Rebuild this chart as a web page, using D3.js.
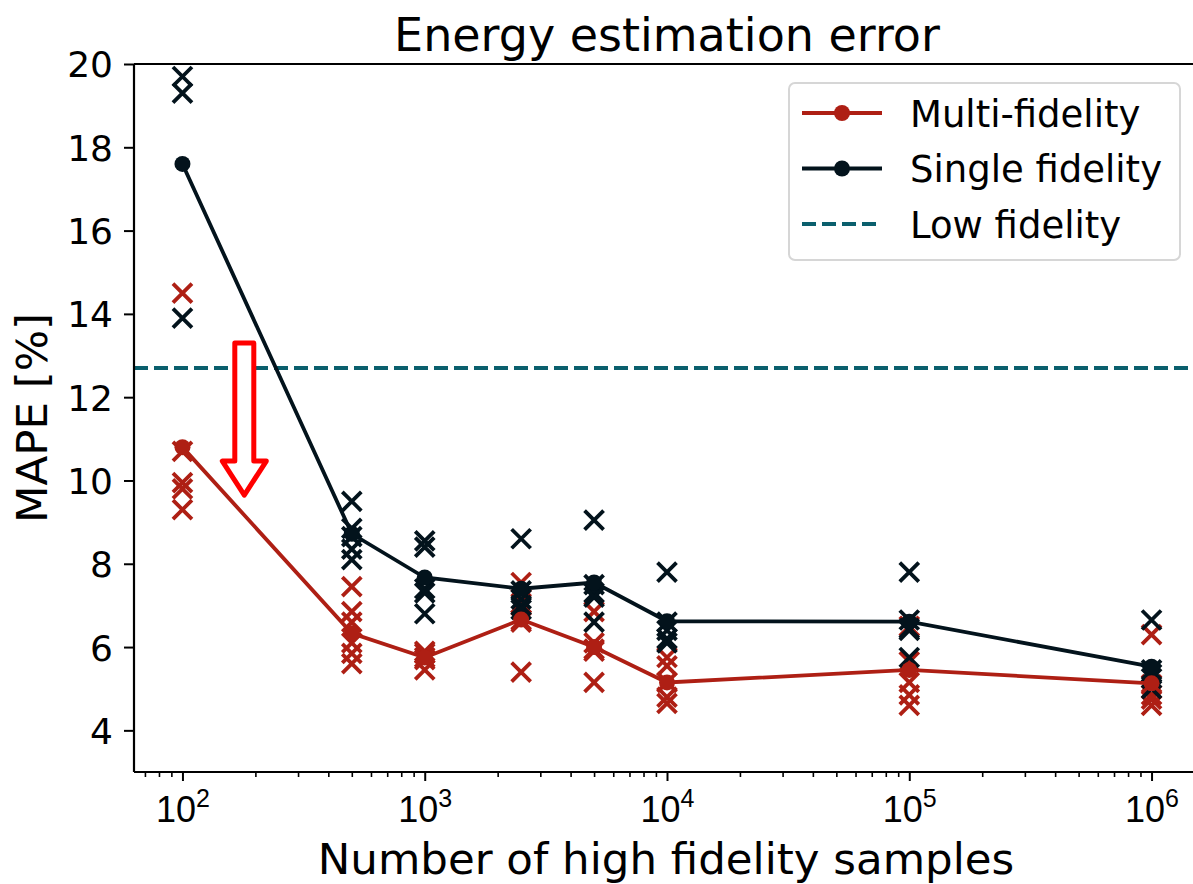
<!DOCTYPE html>
<html>
<head>
<meta charset="utf-8">
<script src="https://cdn.jsdelivr.net/npm/d3@7"></script>
<style>
  body { margin: 0; background: #fff; }
  svg { display: block; font-family: "DejaVu Sans", sans-serif; }
</style>
</head>
<body>
<svg id="chart" width="1193" height="884"></svg>
<script>
// values
const samples = [100, 500, 1000, 2500, 5000, 10000, 100000, 1000000];
const multiMean = [10.8, 6.33, 5.75, 6.66, 6.0, 5.15, 5.45, 5.13];
const singleMean = [17.6, 8.72, 7.67, 7.4, 7.55, 6.62, 6.61, 5.53];
const lowFidelity = 12.7;

const multiRuns = [
  [14.5, 10.7, 9.95, 9.8, 9.3],
  [7.45, 6.85, 6.6, 6.1, 5.85, 5.6],
  [5.9, 5.85, 5.75, 5.7, 5.45],
  [7.55, 7.05, 6.65, 6.6, 5.4],
  [6.85, 6.1, 5.95, 5.9, 5.15],
  [5.75, 5.55, 5.15, 4.8, 4.65],
  [6.5, 5.65, 5.15, 4.85, 4.6],
  [6.3, 5.1, 4.85, 4.75, 4.6]
];
const singleRuns = [
  [19.7, 19.3, 13.9],
  [9.5, 8.85, 8.65, 8.35, 8.1],
  [8.55, 8.4, 7.4, 7.3, 6.8],
  [8.6, 7.35, 7.15, 7.0, 6.9],
  [9.05, 7.5, 7.3, 7.2, 6.6],
  [7.8, 6.6, 6.4, 6.2, 6.1],
  [7.8, 6.65, 6.45, 6.4, 5.75],
  [6.65, 5.45, 5.35, 5.25, 5.0]
];

// reduction arrow annotation (data coords)
const arrowX = 180;
const arrowFrom = 13.3;
const arrowTo = 9.65;

const yTicks = [4, 6, 8, 10, 12, 14, 16, 18, 20];
const xTicks = [1e2, 1e3, 1e4, 1e5, 1e6];

const red = '#ae1f14';
const dark = '#03131c';
const teal = '#0a5f6d';

const svg = d3.select('#chart');
const pLeft = 134, pTop = 64, pRight = 1200, pBottom = 772;

const x = d3.scaleLog().domain([Math.pow(10, 1.8), Math.pow(10, 6.2)]).range([pLeft, pRight]);
const y = d3.scaleLinear().domain([3, 20]).range([pBottom, pTop]);

const plot = svg.append('g');
plot.append('clipPath').attr('id', 'clip')
  .append('rect').attr('x', pLeft).attr('y', pTop).attr('width', pRight - pLeft).attr('height', pBottom - pTop);

const inner = plot.append('g').attr('clip-path', 'url(#clip)');

// low fidelity reference
inner.append('line')
  .attr('x1', pLeft).attr('x2', pRight)
  .attr('y1', y(lowFidelity)).attr('y2', y(lowFidelity))
  .attr('stroke', teal).attr('stroke-width', 3.8)
  .attr('stroke-dasharray', '14,6');

const drawCrosses = (runs, color) => {
  const pts = [];
  runs.forEach((r, i) => r.forEach((v) => pts.push([samples[i], v])));
  inner.selectAll(null)
    .data(pts)
    .enter()
    .append('path')
    .attr('d', (d) => {
      const cx = x(d[0]), cy = y(d[1]), s = 9.5;
      return `M${cx - s},${cy - s}L${cx + s},${cy + s}M${cx - s},${cy + s}L${cx + s},${cy - s}`;
    })
    .attr('stroke', color)
    .attr('stroke-width', 3.8)
    .attr('fill', 'none');
};

const drawMean = (means, color) => {
  const line = d3.line().x((d, i) => x(samples[i])).y((d) => y(d));
  inner.append('path')
    .attr('d', line(means))
    .attr('stroke', color)
    .attr('stroke-width', 3.8)
    .attr('fill', 'none');
  inner.selectAll(null)
    .data(means)
    .enter()
    .append('circle')
    .attr('cx', (d, i) => x(samples[i]))
    .attr('cy', (d) => y(d))
    .attr('r', 8)
    .attr('fill', color);
};

drawCrosses(multiRuns, red);
drawCrosses(singleRuns, dark);
drawMean(multiMean, red);
drawMean(singleMean, dark);

// arrow
const ax = x(arrowX), ay0 = y(arrowFrom), ay1 = y(arrowTo);
const sw = 9.5, hw = 22, hh = 34;
inner.append('path')
  .attr('d', `M${ax - sw},${ay0}L${ax + sw},${ay0}L${ax + sw},${ay1 - hh}L${ax + hw},${ay1 - hh}` +
    `L${ax},${ay1}L${ax - hw},${ay1 - hh}L${ax - sw},${ay1 - hh}Z`)
  .attr('fill', '#fff')
  .attr('stroke', '#ff0000')
  .attr('stroke-width', 5)
  .attr('stroke-linejoin', 'round');

// axes
const xAxis = d3.axisBottom(x).tickValues(xTicks).tickSize(9).tickFormat('');
const gx = svg.append('g').attr('transform', `translate(0,${pBottom})`).call(xAxis);

const minor = [];
for (let e = 1; e <= 6; e++) {
  for (let m = 2; m <= 9; m++) {
    const v = m * Math.pow(10, e);
    if (v > x.domain()[0] && v < x.domain()[1]) minor.push(v);
  }
}
svg.append('g').attr('transform', `translate(0,${pBottom})`)
  .call(d3.axisBottom(x).tickValues(minor).tickSize(5).tickFormat(''))
  .call((g) => g.select('.domain').remove())
  .selectAll('line').attr('stroke-width', 1.6);

gx.selectAll('.tick line').attr('stroke-width', 2);
gx.select('.domain').attr('stroke-width', 2.2).attr('d', `M${pLeft},0H${pRight}`);

gx.selectAll('.tick').each(function (d) {
  const t = d3.select(this).append('text')
    .attr('y', 50)
    .attr('fill', '#000')
    .attr('font-size', 36)
    .attr('text-anchor', 'middle');
  t.append('tspan').text('10');
  t.append('tspan').attr('dy', -15).attr('font-size', 25).text(Math.round(Math.log10(d)));
});

const gy = svg.append('g').attr('transform', `translate(${pLeft},0)`)
  .call(d3.axisLeft(y).tickValues(yTicks).tickSize(10).tickPadding(11));
gy.select('.domain').attr('stroke-width', 2.2).attr('d', `M0,${pBottom}V${pTop}`);
gy.selectAll('.tick line').attr('stroke-width', 2);
gy.selectAll('.tick text').attr('font-size', 36).attr('fill', '#000')
  .attr('font-family', '"DejaVu Sans", sans-serif').attr('dy', '0.36em');

// top spine
svg.append('line').attr('x1', pLeft).attr('x2', pRight).attr('y1', pTop).attr('y2', pTop)
  .attr('stroke', '#000').attr('stroke-width', 2.2);

// labels
svg.append('text').attr('x', (pLeft + pRight) / 2).attr('y', 51)
  .attr('text-anchor', 'middle').attr('font-size', 46).text('Energy estimation error');
svg.append('text').attr('x', (pLeft + pRight) / 2 - 1).attr('y', 874)
  .attr('text-anchor', 'middle').attr('font-size', 43.5).text('Number of high fidelity samples');
svg.append('text').attr('transform', `translate(47,${(pTop + pBottom) / 2}) rotate(-90)`)
  .attr('text-anchor', 'middle').attr('font-size', 43.5).text('MAPE [%]');

// legend
const legendItems = [
  { label: 'Multi-fidelity', color: red, dash: null, dot: true },
  { label: 'Single fidelity', color: dark, dash: null, dot: true },
  { label: 'Low fidelity', color: teal, dash: '14,6', dot: false }
];
const lg = svg.append('g');
lg.append('rect').attr('x', 789).attr('y', 83).attr('width', 391).attr('height', 177)
  .attr('rx', 6).attr('fill', '#fff').attr('fill-opacity', 0.8)
  .attr('stroke', '#d6d6d6').attr('stroke-width', 2);
legendItems.forEach((it, i) => {
  const cy = 113 + i * 55.5;
  lg.append('line').attr('x1', 802).attr('x2', 882).attr('y1', cy).attr('y2', cy)
    .attr('stroke', it.color).attr('stroke-width', 3.8)
    .attr('stroke-dasharray', it.dash);
  if (it.dot) lg.append('circle').attr('cx', 842).attr('cy', cy).attr('r', 8).attr('fill', it.color);
  lg.append('text').attr('x', 910).attr('y', cy + 13.5).attr('font-size', 37).text(it.label);
});
</script>
</body>
</html>
